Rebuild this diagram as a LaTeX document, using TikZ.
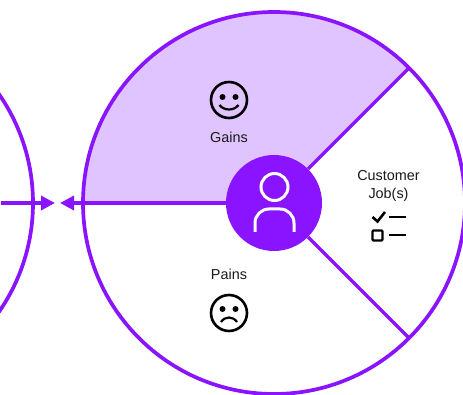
\documentclass[tikz,border=0pt]{standalone}
\usepackage{fontspec}
\setmainfont{Liberation Sans}
\usetikzlibrary{arrows.meta}
\definecolor{brandpurple}{HTML}{8A14FF}
\definecolor{gainfill}{HTML}{E0C4FF}

\tikzset{
    ring/.style={draw=brandpurple, line width=3.7pt},
    spoke/.style={draw=brandpurple, line width=3.4pt},
    arrowline/.style={spoke, -{Triangle[length=14pt, width=14pt]}, shorten >=0pt},
    hub/.style={circle, fill=brandpurple, minimum size=96pt, inner sep=0pt},
    label/.style={font=\fontsize{14.4}{17.5}\selectfont, align=center, text=black!90},
    face/.style={circle, draw=black, line width=2.6pt, minimum size=36pt, inner sep=0pt},
    usericon/.style={draw=white, line width=3pt},
    icon/.style={draw=black, line width=2.2pt}
}

\begin{document}
\begin{tikzpicture}[x=1pt, y=-1pt]
    \useasboundingbox (0,0) rectangle (463,395);
    \clip (0,0) rectangle (463,395);

    \coordinate (center) at (274,203);
    \coordinate (leftcenter) at (-158,203);
    \coordinate (upper) at (409,68);
    \coordinate (lower) at (409,338);
    \coordinate (lefttip) at (60,203);
    \coordinate (leftstart) at (1,203);
    \coordinate (righttip) at (55,203);

    % gains sector
    \fill[gainfill] (center) -- (upper) arc[start angle=-45, end angle=-180, radius=191] -- cycle;

    \draw[ring] (center) circle (191);
    \draw[ring] (leftcenter) circle (191);

    \node[hub] (user) at (center) {};

    \path[spoke] (user) -- (upper);
    \path[spoke] (user) -- (lower);
    \path[arrowline] (user) -- (lefttip);
    \path[arrowline] (leftstart) -- (righttip);

    % user icon
    \draw[usericon] (274.5,187) circle (13.5);
    \draw[usericon] (255,232) -- (255,223) arc[start angle=180, end angle=270, radius=14]
        -- (280,209) arc[start angle=270, end angle=360, radius=14] -- (294,232);

    \node[label] (gains) at (229,137) {Gains};
    \node[label] (pains) at (229,274) {Pains};
    \node[label] (jobs) at (388.5,186) {Customer\\Job(s)};

    % smile
    \node[face] (smile) at (229,100) {};
    \fill (222.5,97) circle (3);
    \fill (235.5,97) circle (3);
    \draw[icon] (219.5,105) .. controls (224,111) and (234,111) .. (238.5,105);

    % frown
    \node[face] (frown) at (229,313) {};
    \fill (222.5,309) circle (3);
    \fill (235.5,309) circle (3);
    \draw[icon] (221,322) .. controls (225,316) and (233,316) .. (237,322);

    % checklist
    \draw[icon, line width=2.6pt] (372.5,217) -- (377.5,221.5) -- (385,212);
    \draw[icon] (389,217) -- (406,217);
    \draw[icon, rounded corners=1pt] (372.5,230.5) rectangle (382.5,240.5);
    \draw[icon] (389,235) -- (406,235);
\end{tikzpicture}
\end{document}
